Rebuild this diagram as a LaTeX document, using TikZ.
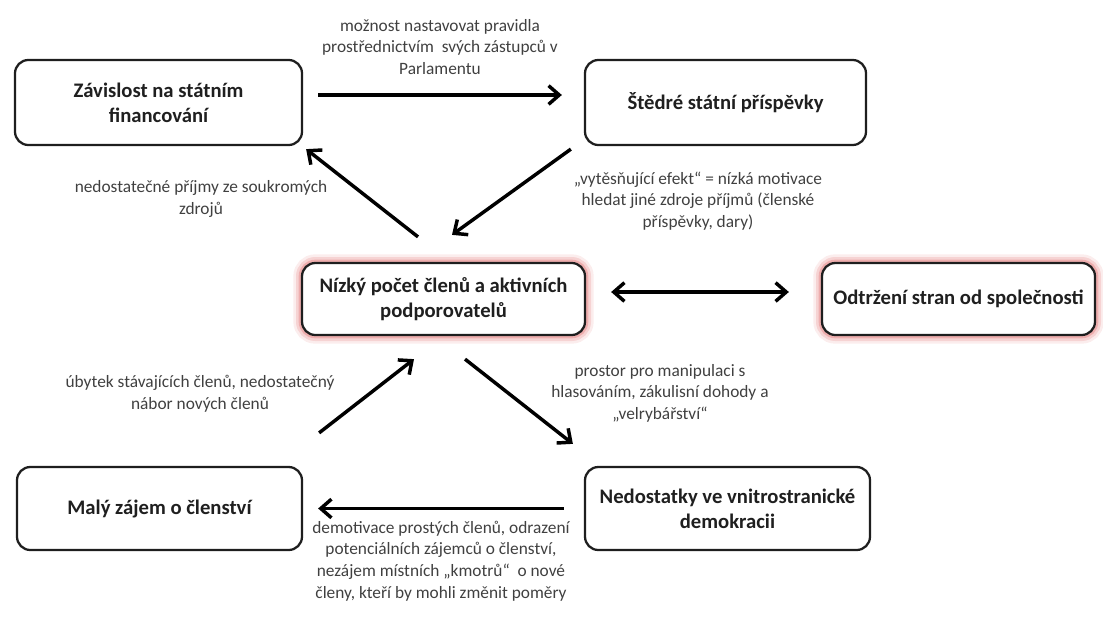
\documentclass[tikz,border=0pt]{standalone}
\usepackage{fontspec}
\setmainfont{Carlito}
\usetikzlibrary{arrows.meta}

\definecolor{boxline}{HTML}{1E1E1E}
\definecolor{lbltext}{HTML}{404040}
\definecolor{glowred}{HTML}{E06A6A}

\tikzset{
  box/.style={draw=boxline, line width=1.7pt, rounded corners=10pt, fill=white, align=center,
    font=\fontsize{15.5}{19}\selectfont\bfseries, text=black!88},
  glowbox/.style={box,
    preaction={draw=glowred, line width=13pt, opacity=0.12},
    preaction={draw=glowred, line width=9pt, opacity=0.2},
    preaction={draw=glowred, line width=5pt, opacity=0.35}},
  lbl/.style={align=center, font=\fontsize{13}{16.2}\selectfont, text=lbltext},
  arr/.style={line width=2.6pt, draw=black}
}

\begin{document}
\begin{tikzpicture}[x=0.75pt, y=-0.75pt, >={Straight Barb[length=8pt,width=14pt]}]
    \useasboundingbox (0,0) rectangle (1103,617);

    \node[box, minimum width=215.25pt, minimum height=63.75pt] (zav) at (158.5,102.5) {Závislost na státním\\financování};
    \node[box, minimum width=210.75pt, minimum height=63.75pt] (ste) at (725.5,102.5) {Štědré státní příspěvky};
    \node[glowbox, minimum width=212.25pt, minimum height=54pt] (niz) at (443.5,299) {Nízký počet členů a aktivních\\podporovatelů};
    \node[glowbox, minimum width=204.75pt, minimum height=54pt] (odt) at (958.5,299) {Odtržení stran od společnosti};
    \node[box, minimum width=213.75pt, minimum height=62.25pt] (mal) at (159.5,508.5) {Malý zájem o členství};
    \node[box, minimum width=213.75pt, minimum height=62.25pt] (ned) at (727.5,508.5) {Nedostatky ve vnitrostranické\\demokracii};

    \node[lbl] (lpar) at (440,47) {možnost nastavovat pravidla\\prostřednictvím\ \ svých zástupců v\\Parlamentu};
    \node[lbl] (lpri) at (201,199) {nedostatečné příjmy ze soukromých\\zdrojů};
    \node[lbl] (lvyt) at (698,201) {„vytěsňující efekt“ = nízká motivace\\hledat jiné zdroje příjmů (členské\\příspěvky, dary)};
    \node[lbl] (luby) at (200,394) {úbytek stávajících členů, nedostatečný\\nábor nových členů};
    \node[lbl] (lman) at (660,393) {prostor pro manipulaci s\\hlasováním, zákulisní dohody a\\„velrybářství“};
    \node[lbl] (ldem) at (441,561) {demotivace prostých členů, odrazení\\potenciálních zájemců o členství,\\nezájem místních „kmotrů“\ \ o nové\\členy, kteří by mohli změnit poměry};

    \draw[arr, ->] ([shift={(15,-7.5)}]zav.east) -- ([shift={(-22,-7.5)}]ste.west);
    \draw[arr, ->] ([shift={(-25.5,-25)}]niz.north) -- ([shift={(3,3)}]zav.south east);
    \draw[arr, ->] ([shift={(-13,3)}]ste.south west) -- ([shift={(8.5,-27)}]niz.north);
    \draw[arr, <->] ([shift={(25,-7)}]niz.east) -- ([shift={(-32,-7)}]odt.west);
    \draw[arr, ->] ([shift={(16,-33)}]mal.north east) -- ([shift={(-29.5,23)}]niz.south);
    \draw[arr, ->] ([shift={(21.5,23)}]niz.south) -- ([shift={(-11,-22)}]ned.north west);
    \draw[arr, ->] ([shift={(-20,0)}]ned.west) -- ([shift={(15,0)}]mal.east);
\end{tikzpicture}
\end{document}
